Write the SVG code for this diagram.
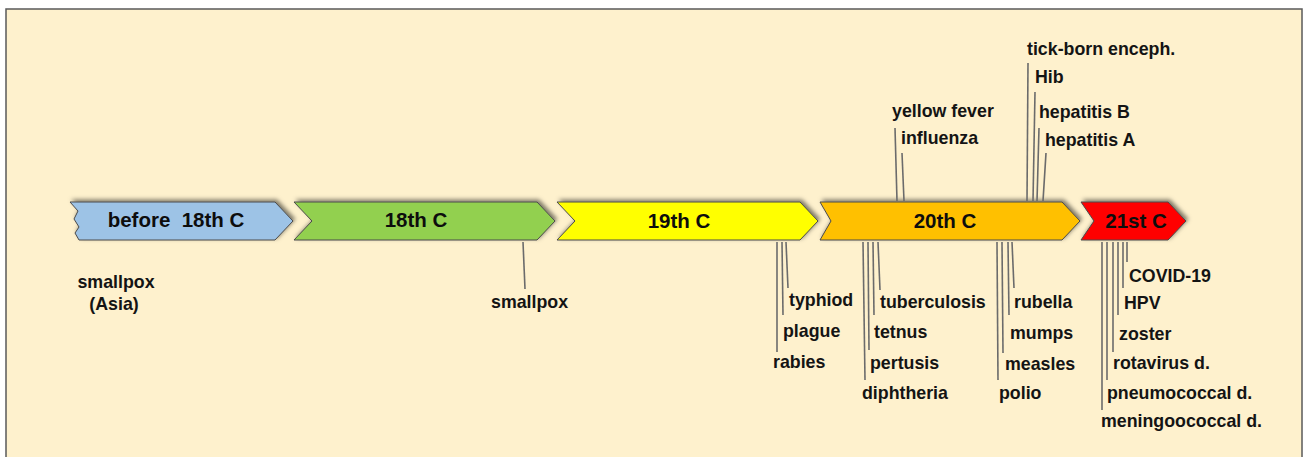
<svg xmlns="http://www.w3.org/2000/svg" width="1303" height="457" viewBox="0 0 1303 457">
<defs>
<style>
.bg{fill:#FEF1CD;stroke:#5a5a5a;stroke-width:1.5}
.arr{stroke:#4a4a4a;stroke-width:1;filter:url(#sh)}
.at{font-family:"Liberation Sans",Arial,sans-serif;font-weight:bold;font-size:20.5px;fill:#0d0d0d;text-anchor:middle;white-space:pre}
.lb{font-family:"Liberation Sans",Arial,sans-serif;font-weight:bold;font-size:17.8px;fill:#141414}
.ln{stroke:#6b6b6b;stroke-width:1.6;fill:none}
</style>
<filter id="sh" x="-10%" y="-40%" width="120%" height="180%">
<feDropShadow dx="2" dy="-2" stdDeviation="2" flood-color="#000" flood-opacity="0.5"/>
</filter>
</defs>
<rect x="0" y="0" width="1303" height="457" fill="#ffffff"/>
<rect class="bg" x="6" y="9" width="1296" height="460"/>

<g id="before18">
<path class="arr" fill="#9DC3E6" d="M70,202 L275,202 L293,221 L275,240 L79,240 L75,233 L79,227 L74,219 L78,211 Z"/>
<text class="at" x="176" y="227">before  18th C</text>
</g>
<g id="c18">
<path class="arr" fill="#92D050" d="M294,202 L537,202 L555,221 L537,240 L294,240 L312,221 Z"/>
<text class="at" x="416" y="227">18th C</text>
</g>
<g id="c19">
<path class="arr" fill="#FFFF00" d="M557,202 L800,202 L818,221 L800,240 L557,240 L575,221 Z"/>
<text class="at" x="679" y="228">19th C</text>
</g>
<g id="c20">
<path class="arr" fill="#FFC000" d="M820,202 L1062,202 L1080,221 L1062,240 L820,240 L831,221 Z"/>
<text class="at" x="945" y="228">20th C</text>
</g>
<g id="c21">
<path class="arr" fill="#FF0000" d="M1081,202 L1168,202 L1186,221 L1168,240 L1081,240 L1094,221 Z"/>
<text class="at" x="1136" y="228">21st C</text>
</g>

<g id="connectors">
<line class="ln" x1="523" y1="242" x2="525" y2="289"/>
<line class="ln" x1="777" y1="242" x2="777" y2="352"/>
<line class="ln" x1="782" y1="242" x2="783" y2="315"/>
<line class="ln" x1="786" y1="242" x2="788" y2="288"/>
<line class="ln" x1="863" y1="242" x2="865" y2="380"/>
<line class="ln" x1="868" y1="242" x2="869" y2="350"/>
<line class="ln" x1="873" y1="242" x2="874" y2="315"/>
<line class="ln" x1="878" y1="242" x2="880" y2="290"/>
<line class="ln" x1="997" y1="242" x2="998" y2="380"/>
<line class="ln" x1="1002" y1="242" x2="1003" y2="353"/>
<line class="ln" x1="1008" y1="242" x2="1009" y2="315"/>
<line class="ln" x1="1012" y1="242" x2="1014" y2="288"/>
<line class="ln" x1="1102" y1="242" x2="1102" y2="410"/>
<line class="ln" x1="1107" y1="242" x2="1107" y2="380"/>
<line class="ln" x1="1113" y1="242" x2="1113" y2="352"/>
<line class="ln" x1="1118" y1="242" x2="1118" y2="315"/>
<line class="ln" x1="1123" y1="242" x2="1123" y2="288"/>
<line class="ln" x1="1127" y1="242" x2="1127" y2="262"/>
<line class="ln" x1="897" y1="201" x2="895" y2="128"/>
<line class="ln" x1="904" y1="201" x2="902" y2="153"/>
<line class="ln" x1="1027" y1="201" x2="1028" y2="63"/>
<line class="ln" x1="1033" y1="201" x2="1035" y2="92"/>
<line class="ln" x1="1037" y1="201" x2="1039" y2="128"/>
<line class="ln" x1="1043" y1="201" x2="1046" y2="153"/>
</g>

<g id="labels">
<text class="lb" x="116" y="288" text-anchor="middle">smallpox</text>
<text class="lb" x="114" y="310" text-anchor="middle">(Asia)</text>
<text class="lb" x="491" y="308">smallpox</text>
<text class="lb" x="1027" y="55">tick-born enceph.</text>
<text class="lb" x="1035" y="83">Hib</text>
<text class="lb" x="1039" y="118">hepatitis B</text>
<text class="lb" x="1045" y="146">hepatitis A</text>
<text class="lb" x="892" y="117">yellow fever</text>
<text class="lb" x="901" y="144">influenza</text>
<text class="lb" x="789" y="306">typhiod</text>
<text class="lb" x="783" y="337">plague</text>
<text class="lb" x="773" y="368">rabies</text>
<text class="lb" x="880" y="308">tuberculosis</text>
<text class="lb" x="874" y="338">tetnus</text>
<text class="lb" x="870" y="369">pertusis</text>
<text class="lb" x="862" y="399">diphtheria</text>
<text class="lb" x="1014" y="308">rubella</text>
<text class="lb" x="1010" y="339">mumps</text>
<text class="lb" x="1005" y="370">measles</text>
<text class="lb" x="999" y="399">polio</text>
<text class="lb" x="1129" y="282">COVID-19</text>
<text class="lb" x="1124" y="309">HPV</text>
<text class="lb" x="1119" y="340">zoster</text>
<text class="lb" x="1113" y="369">rotavirus d.</text>
<text class="lb" x="1107" y="399">pneumococcal d.</text>
<text class="lb" x="1101" y="427">meningoococcal d.</text>
</g>
</svg>
